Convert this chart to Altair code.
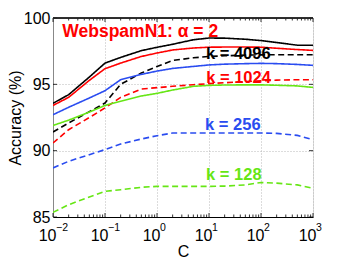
import altair as alt
import pandas as pd

# ---- data ----
C = [0.01, 0.02, 0.05, 0.1, 0.2, 0.5, 1, 2, 5, 10, 20, 50, 100, 200, 500, 1000]

k4096_solid = [93.57, 94.22, 95.55, 96.60, 97.03, 97.54, 97.79, 98.02, 98.36, 98.49, 98.48, 98.40, 98.30, 98.15, 97.95, 97.94]
k1024_solid = [93.41, 94.02, 95.30, 96.18, 96.60, 97.10, 97.36, 97.59, 97.74, 97.80, 97.81, 97.81, 97.80, 97.72, 97.62, 97.56]
k4096_dash = [91.41, 92.09, 92.94, 93.59, 95.00, 95.85, 96.35, 96.80, 97.00, 97.10, 97.15, 97.20, 97.22, 97.23, 97.23, 97.23]
k256_solid = [92.71, 93.27, 93.97, 94.52, 95.35, 95.75, 96.00, 96.20, 96.35, 96.46, 96.52, 96.56, 96.58, 96.56, 96.50, 96.43]
k1024_dash = [90.58, 91.58, 92.50, 93.22, 94.02, 94.65, 94.75, 94.85, 94.97, 95.05, 95.12, 95.20, 95.27, 95.32, 95.35, 95.35]
k128_solid = [91.90, 92.30, 92.91, 93.41, 93.72, 94.12, 94.32, 94.57, 94.85, 94.92, 94.95, 94.96, 94.96, 94.93, 94.88, 94.77]
k256_dash = [88.70, 89.20, 89.70, 90.08, 90.50, 90.88, 91.13, 91.33, 91.33, 91.33, 91.33, 91.33, 91.33, 91.30, 91.15, 90.83]
k128_dash = [85.35, 85.93, 86.50, 86.93, 87.06, 87.24, 87.31, 87.31, 87.31, 87.31, 87.33, 87.42, 87.60, 87.55, 87.42, 87.17]

series_names = ["4096 solid", "1024 solid", "4096 dashed", "256 solid",
                "1024 dashed", "128 solid", "256 dashed", "128 dashed"]
series_values = [k4096_solid, k1024_solid, k4096_dash, k256_solid,
                 k1024_dash, k128_solid, k256_dash, k128_dash]
series_colors = ["#000000", "#ff0000", "#000000", "#2a4cf0",
                 "#ff0000", "#66e615", "#2a4cf0", "#66e615"]
series_styles = ["solid", "solid", "dashed", "solid",
                 "dashed", "solid", "dashed", "dashed"]

label_texts = ["WebspamN1: \u03b1 = 2", "k = 4096", "k = 1024", "k = 256", "k = 128"]
label_C = [0.0151, 36.6, 37.0, 28.7, 30.0]
label_acc = [98.95, 97.31, 95.5, 91.96, 88.13]
label_colors = ["#ff0000", "#000000", "#ff0000", "#2a4cf0", "#66e615"]
label_align = ["left", "center", "center", "center", "center"]

major_C = [0.01, 0.1, 1, 10, 100, 1000]
major_exp = ["\u22122", "\u22121", "0", "1", "2", "3"]
minor_C = [m * 10.0 ** e for e in range(-2, 3) for m in range(2, 10)]
y_ticks = [85, 90, 95, 100]

W, H = 260, 199
FONT = "Liberation Sans"

rows = []
for name, vals, style in zip(series_names, series_values, series_styles):
    for c, v in zip(C, vals):
        rows.append({"C": c, "acc": v, "series": name, "style": style})
df = pd.DataFrame(rows)

xscale = alt.Scale(type="log", domain=[0.01, 1000], nice=False)
yscale = alt.Scale(domain=[85, 100], nice=False, zero=False)

xaxis = alt.Axis(values=major_C, labelExpr="'10'", labelAlign="right", labelOffset=3,
                 labelFontSize=16, labelFont=FONT, labelColor="#000", labelPadding=10,
                 ticks=False, domainColor="#000", domainWidth=1,
                 grid=True, gridColor="#b8b8b8", gridDash=[1, 2], gridWidth=1,
                 title="C", titleFont=FONT, titleFontSize=16, titleFontWeight="normal",
                 titleColor="#000", titleX=W / 2, titleY=34, titleBaseline="middle",
                 titleAlign="center")
yaxis = alt.Axis(values=y_ticks, labelFontSize=16, labelFont=FONT, labelColor="#000",
                 labelPadding=3, ticks=False, domainColor="#888888", domainWidth=1,
                 grid=True, gridColor="#b8b8b8", gridDash=[1, 2], gridWidth=1,
                 title="Accuracy (%)", titleFont=FONT, titleFontSize=16,
                 titleFontWeight="normal", titleColor="#000", titleX=-38, titleY=H / 2,
                 titleAngle=270, titleAlign="center", titleBaseline="middle")

lines = alt.Chart(df).mark_line(strokeWidth=1.6, clip=True).encode(
    x=alt.X("C:Q", scale=xscale, axis=xaxis),
    y=alt.Y("acc:Q", scale=yscale, axis=yaxis),
    color=alt.Color("series:N", scale=alt.Scale(domain=series_names, range=series_colors), legend=None),
    strokeDash=alt.StrokeDash("style:N", scale=alt.Scale(domain=["solid", "dashed"], range=[[1, 0], [6, 3.5]]), legend=None),
    detail="series:N",
)

lab_df = pd.DataFrame({"t": label_texts, "C": label_C, "acc": label_acc,
                       "col": label_colors, "al": label_align})
labels_left = alt.Chart(lab_df[lab_df["al"] == "left"]).mark_text(
    align="left", baseline="middle", font=FONT, fontWeight="bold", fontSize=17.5
).encode(x=alt.X("C:Q", scale=xscale), y=alt.Y("acc:Q", scale=yscale),
         text="t:N", color=alt.Color("col:N", scale=None))
labels_center = alt.Chart(lab_df[lab_df["al"] == "center"]).mark_text(
    align="center", baseline="middle", font=FONT, fontWeight="bold", fontSize=16.5
).encode(x=alt.X("C:Q", scale=xscale), y=alt.Y("acc:Q", scale=yscale),
         text="t:N", color=alt.Color("col:N", scale=None))

maj_df = pd.DataFrame({"C": major_C, "e": major_exp})
exps = alt.Chart(maj_df).mark_text(align="left", baseline="alphabetic", dx=3,
                                   font=FONT, fontSize=10.5, color="#000").encode(
    x=alt.X("C:Q", scale=xscale), y=alt.value(H + 13.5), text="e:N")

min_df = pd.DataFrame({"C": minor_C})
minor_bot = alt.Chart(min_df).mark_rule(color="#000", strokeWidth=0.8).encode(
    x=alt.X("C:Q", scale=xscale), y=alt.value(H), y2=alt.value(H - 2.5))
minor_top = alt.Chart(min_df).mark_rule(color="#000", strokeWidth=0.8).encode(
    x=alt.X("C:Q", scale=xscale), y=alt.value(0), y2=alt.value(2.5))
major_bot = alt.Chart(maj_df).mark_rule(color="#000", strokeWidth=0.8).encode(
    x=alt.X("C:Q", scale=xscale), y=alt.value(H), y2=alt.value(H - 4))
major_top = alt.Chart(maj_df).mark_rule(color="#000", strokeWidth=0.8).encode(
    x=alt.X("C:Q", scale=xscale), y=alt.value(0), y2=alt.value(4))
yt_df = pd.DataFrame({"acc": y_ticks})
ytick_l = alt.Chart(yt_df).mark_rule(color="#000", strokeWidth=0.8).encode(
    y=alt.Y("acc:Q", scale=yscale), x=alt.value(0), x2=alt.value(4))
ytick_r = alt.Chart(yt_df).mark_rule(color="#000", strokeWidth=0.8).encode(
    y=alt.Y("acc:Q", scale=yscale), x=alt.value(W), x2=alt.value(W - 4))
top_border = alt.Chart(yt_df).mark_rule(color="#222", strokeWidth=1).encode(
    x=alt.value(0), x2=alt.value(W), y=alt.value(0))

chart = alt.layer(
    lines, labels_left, labels_center, exps,
    minor_bot, minor_top, major_bot, major_top, ytick_l, ytick_r, top_border
).properties(
    width=W, height=H,
    padding={"left": 45, "top": 10, "right": 25, "bottom": 43},
    autosize=alt.AutoSizeParams(type="none"),
).configure_view(stroke="#888888", strokeWidth=1).configure(background="white")

chart.save("out.html", embed_options={"renderer": "svg", "actions": False})
